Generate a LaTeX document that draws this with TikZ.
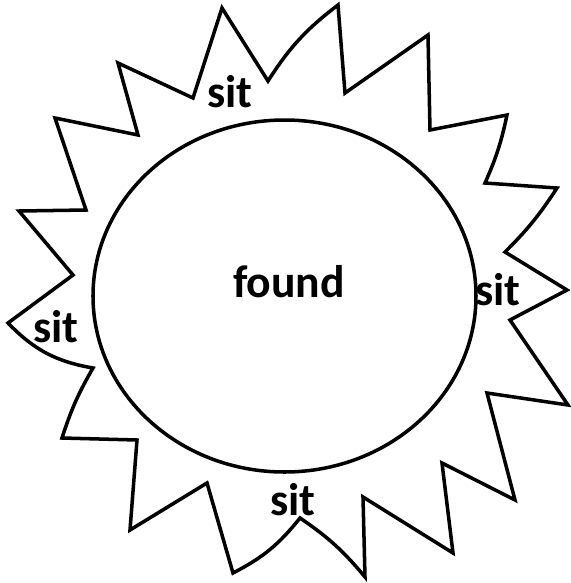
\documentclass[tikz,border=0pt]{standalone}
\usepackage{fontspec}
\setmainfont{Carlito}

\begin{document}
\begin{tikzpicture}[x=0.02cm,y=-0.02cm]
\tikzset{
  outline/.style={line width=2pt,line join=miter},
  word/.style={font=\fontsize{26}{30}\selectfont\bfseries,inner sep=0pt,anchor=base}
}
\useasboundingbox (0,0) rectangle (571,583);
% sun body and ray outline
\draw[outline] (284.5,296) ellipse [x radius=191.5,y radius=176];
\draw[outline] (222,8) -- (268,81) to[bend left=10] (338,5) -- (345,93)
  -- (428,35) -- (430,130) -- (507,115) to[bend left=6] (485,183)
  -- (557,188) to[bend left=6] (505,252) -- (567,290) -- (510,320)
  -- (568,405) -- (487,393) -- (515,500) -- (442,463) -- (453,553)
  -- (363,497) -- (365,577) to[bend right=8] (300,518)
  to[bend left=12] (233,573) -- (207,483) -- (130,530) -- (137,440)
  -- (62,438) to[bend left=6] (93,368) to[bend left=18] (8,323)
  -- (73,275) -- (19,211) -- (86,210) -- (55,118) -- (138,135)
  -- (118,63) -- (193,98) -- cycle;
% words
\node[word] (w_found) at (289,297) {found};
\node[word] (w_top) at (230,107) {sit};
\node[word] (w_right) at (498,305) {sit};
\node[word] (w_left) at (56,342) {sit};
\node[word] (w_bottom) at (293,515) {sit};
\end{tikzpicture}
\end{document}
